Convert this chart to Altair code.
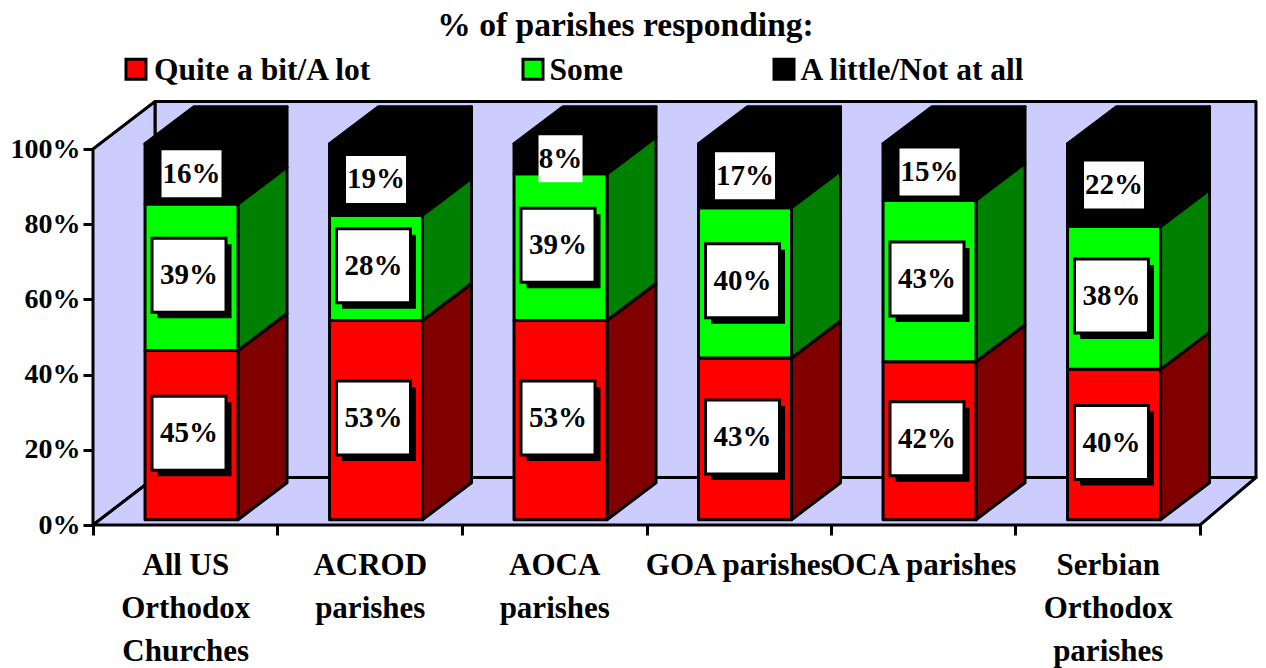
import altair as alt
import pandas as pd

# ---- values ----
categories = ["All US|Orthodox|Churches", "ACROD|parishes", "AOCA|parishes",
              "GOA parishes", "OCA parishes", "Serbian|Orthodox|parishes"]
series = ["Quite a bit/A lot", "Some", "A little/Not at all"]
quite = [45, 53, 53, 43, 42, 40]
some = [39, 28, 39, 40, 43, 38]
little = [16, 19, 8, 17, 15, 22]
y_ticks = [0, 20, 40, 60, 80, 100]

# ---- styles & geometry ----
FONT = "Liberation Serif"
FRONT = ["#FF0000", "#00FF00", "#000000"]
SIDE = ["#800000", "#008000", "#000000"]
WALL = "#CCCCFF"
PX_C, PX_P = 184.5, 3.76          # pixels per category, pixels per percent
X0, Y0 = 93.0, 525.3              # page position of the scale origin
W, H = 1165, 424
WALL_DX, WALL_DY = 62 / PX_C, 47.5 / PX_P
WALL_RIGHT = 1256.0
BAR_DX, BAR_DY = 49 / PX_C, 37 / PX_P
BAR_BASE = 1.4
BAR_SHIFT, BAR_W = 0.034, 0.504
N = len(categories)

def cx(px):
    return (px - X0) / PX_C

def py(px):
    return (Y0 - px) / PX_P

x_dom = alt.Scale(domain=[0, W / PX_C], nice=False, zero=False)
y_dom = alt.Scale(domain=[0, H / PX_P], nice=False, zero=False)
label_js = "[" + ",".join("'" + c + "'" for c in categories) + "]"

x_axis = alt.Axis(
    values=[v / 2 for v in range(2 * N + 1)],
    labelExpr=f"datum.value % 1 == 0 ? '' : split({label_js}[floor(datum.value)], '|')",
    tickOpacity={"condition": {"test": "datum.value % 1 == 0", "value": 1}, "value": 0},
    title=None, grid=False, domain=False, tickColor="black", tickWidth=3, tickSize=10,
    labelFont=FONT, labelFontSize=31, labelFontWeight="bold", labelColor="black",
    labelLineHeight=43, labelPadding=15, labelOverlap=False, labelBound=False,
    labelFlush=False, labelLimit=400, labelBaseline="top", labelAlign="center",
)
y_axis = alt.Axis(
    values=y_ticks, labelExpr="datum.value + '%'",
    title=None, grid=False, domain=False, tickColor="black", tickWidth=3, tickSize=10,
    labelFont=FONT, labelFontSize=28, labelFontWeight="bold", labelColor="black",
    labelPadding=3, labelOverlap=False, labelBound=False, labelFlush=False,
)

X = lambda f="x": alt.X(f"{f}:Q", scale=x_dom, axis=x_axis)
Y = lambda f="y": alt.Y(f"{f}:Q", scale=y_dom, axis=y_axis, stack=None)
X2 = alt.X2("x2:Q")
Y2 = alt.Y2("y2:Q")

# ---- walls ----
back = pd.DataFrame([{"x": WALL_DX, "x2": cx(WALL_RIGHT), "y": WALL_DY, "y2": 100 + WALL_DY}])
left = pd.DataFrame([{"x": 0, "y": 0, "y2": 100}, {"x": WALL_DX, "y": WALL_DY, "y2": 100 + WALL_DY}])
floor = pd.DataFrame([{"y": 0, "x": 0, "x2": N}, {"y": WALL_DY, "x": WALL_DX, "x2": cx(WALL_RIGHT)}])
wall_style = dict(fill=WALL, stroke="black", strokeWidth=3, strokeJoin="round")

back_l = alt.Chart(back).mark_rect(**wall_style).encode(x=X(), x2=X2, y=Y(), y2=Y2)
left_l = alt.Chart(left).mark_area(**wall_style).encode(x=X(), y=Y(), y2=Y2)
floor_l = alt.Chart(floor).mark_area(orient="horizontal", **wall_style).encode(y=Y(), x=X(), x2=X2)

# ---- bars ----
rows, sides, tops, boxes = [], [], [], []
for i in range(N):
    left_x = i + 0.5 + BAR_SHIFT - BAR_W / 2
    right_x = left_x + BAR_W
    base = 0
    for s, vals in enumerate([quite, some, little]):
        v = vals[i]
        y0, y1 = BAR_BASE + base, BAR_BASE + base + v
        rows.append({"x": left_x, "x2": right_x, "y": y0, "y2": y1, "c": FRONT[s]})
        face = f"{i}-{s}"
        sides.append({"face": face, "c": SIDE[s], "x": right_x, "y": y0, "y2": y1})
        sides.append({"face": face, "c": SIDE[s], "x": right_x + BAR_DX, "y": y0 + BAR_DY, "y2": y1 + BAR_DY})
        boxes.append({"x": (left_x + right_x) / 2, "y": (y0 + y1) / 2, "s": s, "v": v, "t": f"{v}%"})
        base += v
    tops.append({"face": str(i), "y": BAR_BASE + base, "x": left_x, "x2": right_x})
    tops.append({"face": str(i), "y": BAR_BASE + base + BAR_DY, "x": left_x + BAR_DX, "x2": right_x + BAR_DX})

rows, sides, tops, boxes = map(pd.DataFrame, (rows, sides, tops, boxes))
bar_style = dict(stroke="black", strokeWidth=3, strokeJoin="round")

side_l = alt.Chart(sides).mark_area(**bar_style).encode(
    x=X(), y=Y(), y2=Y2, detail="face:N", fill=alt.Fill("c:N", scale=None))
front_l = alt.Chart(rows).mark_rect(**bar_style).encode(
    x=X(), x2=X2, y=Y(), y2=Y2, fill=alt.Fill("c:N", scale=None))
top_l = alt.Chart(tops).mark_area(orient="horizontal", fill="black", **bar_style).encode(
    y=Y(), x=X(), x2=X2, detail="face:N")

# ---- data labels ----
framed = boxes[boxes.s < 2]
plain2 = boxes[(boxes.s == 2) & (boxes.v >= 10)]
plain1 = boxes[(boxes.s == 2) & (boxes.v < 10)]

def box(df, **kw):
    return alt.Chart(df).mark_rect(**kw).encode(x=X(), y=Y())

shadow_l = box(framed, width=74, height=74, fill="black", xOffset=3, yOffset=4)
frame_l = box(framed, width=74, height=74, fill="white", stroke="black", strokeWidth=3, xOffset=-2.5, yOffset=-2)
plain2_l = box(plain2, width=60, height=47, fill="white")
plain1_l = box(plain1, width=44, height=47, fill="white")
txt_style = dict(font=FONT, fontSize=29, fontWeight="bold", color="black", align="center", baseline="middle")
text_framed = alt.Chart(framed).mark_text(dx=-2.5, dy=-2, **txt_style).encode(x=X(), y=Y(), text="t:N")
text_plain = alt.Chart(boxes[boxes.s == 2]).mark_text(**txt_style).encode(x=X(), y=Y(), text="t:N")

# ---- legend row ----
leg_x = [136, 533, 784]
leg_text_x = [154, 549.5, 800.5]
leg = pd.DataFrame({
    "x": [cx(p) for p in leg_x],
    "tx": [cx(p) for p in leg_text_x],
    "y": [py(69.5)] * 3,
    "ty": [py(71.5)] * 3,
    "c": FRONT,
    "t": series,
})
leg_sq = alt.Chart(leg).mark_square(size=400, opacity=1, stroke="black", strokeWidth=3).encode(
    x=X(), y=Y(), fill=alt.Fill("c:N", scale=None))
leg_tx = alt.Chart(leg).mark_text(font=FONT, fontSize=31.5, fontWeight="bold", color="black",
                                  align="left", baseline="middle").encode(
    x=X("tx"), y=Y("ty"), text="t:N")

chart = alt.layer(
    back_l, left_l, floor_l, side_l, front_l, top_l,
    shadow_l, frame_l, plain2_l, plain1_l, text_framed, text_plain, leg_sq, leg_tx,
).properties(
    width=W, height=H,
    autosize=alt.AutoSizeParams(type="none"),
    padding={"left": 85, "top": 93, "right": 0, "bottom": 143},
    background="white",
    title=alt.TitleParams("% of parishes responding:", font=FONT, fontSize=33.5, fontWeight="bold",
                          color="black", anchor="middle", dx=-50, offset=10),
).configure_view(stroke=None)

chart.save("out.html", embed_options={"renderer": "svg", "actions": False})
